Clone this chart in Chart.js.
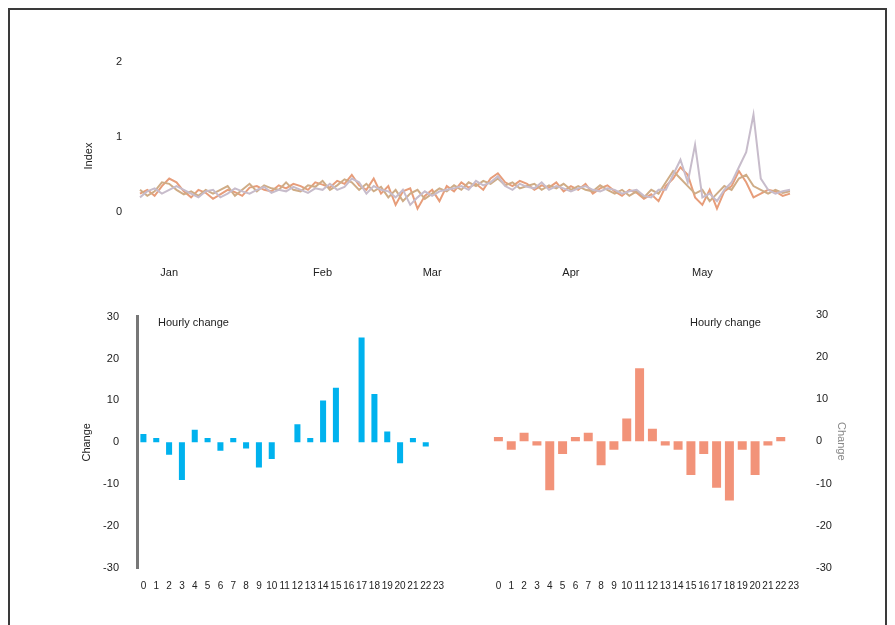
<!DOCTYPE html>
<html>
<head>
<meta charset="utf-8">
<script src="https://cdn.jsdelivr.net/npm/chart.js@4.4.1/dist/chart.umd.min.js"></script>
<style>
  html, body { margin: 0; padding: 0; background: #fff; width: 895px; height: 625px; overflow: hidden; }
  #frame { position: absolute; left: 8px; top: 8px; width: 879px; height: 640px; box-sizing: border-box; border: 2px solid #3a3a3a; }
  .cv { position: absolute; }
  .note { position: absolute; font: 11px "Liberation Sans", Arial, sans-serif; color: #222; white-space: nowrap; }
</style>
</head>
<body>
<div id="frame"></div>
<div class="cv" style="left:60px;top:30px;width:760px;height:260px;"><canvas id="top"></canvas></div>
<div class="cv" style="left:40px;top:300px;width:420px;height:295px;"><canvas id="bl"></canvas></div>
<div class="cv" style="left:470px;top:300px;width:390px;height:295px;"><canvas id="br"></canvas></div>
<div class="note" style="left:158px;top:316px;">Hourly change</div>
<div class="note" style="left:690px;top:316px;">Hourly change</div>
<script>
// ---------- DATA ----------
const topLabels = Array.from({length: 90}, (_, i) => 'Day ' + (i + 1));
const topTickIdx = [4, 25, 40, 59, 77];
const topTickText = ['Jan', 'Feb', 'Mar', 'Apr', 'May'];
const topYTicks = [0, 1, 2];
const seriesA = [0.25,0.30,0.22,0.35,0.45,0.40,0.28,0.20,0.30,0.26,
                 0.18,0.24,0.30,0.27,0.22,0.33,0.35,0.30,0.28,0.36,
                 0.32,0.38,0.35,0.30,0.40,0.37,0.33,0.42,0.38,0.50,
                 0.36,0.30,0.45,0.25,0.35,0.10,0.28,0.32,0.05,0.22,
                 0.30,0.15,0.35,0.28,0.40,0.33,0.38,0.30,0.45,0.52,
                 0.40,0.35,0.42,0.38,0.30,0.36,0.33,0.40,0.28,0.35,
                 0.30,0.38,0.25,0.32,0.36,0.28,0.22,0.30,0.26,0.18,
                 0.24,0.15,0.35,0.45,0.60,0.50,0.20,0.10,0.30,0.05,
                 0.28,0.35,0.55,0.40,0.20,0.25,0.30,0.28,0.22,0.25];
const seriesB = [0.30,0.22,0.28,0.40,0.38,0.30,0.24,0.28,0.22,0.30,
                 0.25,0.30,0.35,0.22,0.30,0.38,0.28,0.36,0.32,0.30,
                 0.40,0.30,0.28,0.36,0.34,0.42,0.30,0.36,0.44,0.40,
                 0.30,0.38,0.28,0.34,0.20,0.30,0.15,0.25,0.30,0.18,
                 0.25,0.32,0.28,0.36,0.30,0.40,0.35,0.42,0.38,0.45,
                 0.36,0.40,0.32,0.35,0.38,0.30,0.36,0.32,0.38,0.30,
                 0.35,0.30,0.28,0.36,0.30,0.25,0.30,0.22,0.28,0.20,
                 0.30,0.25,0.40,0.55,0.45,0.35,0.25,0.30,0.15,0.25,
                 0.35,0.30,0.45,0.50,0.35,0.30,0.25,0.30,0.26,0.28];
const seriesC = [0.20,0.28,0.32,0.25,0.30,0.35,0.30,0.25,0.20,0.28,
                 0.30,0.20,0.25,0.32,0.28,0.25,0.30,0.34,0.26,0.30,
                 0.28,0.34,0.30,0.26,0.32,0.30,0.38,0.30,0.34,0.45,
                 0.40,0.25,0.35,0.30,0.28,0.20,0.30,0.10,0.20,0.28,
                 0.22,0.28,0.30,0.32,0.35,0.30,0.42,0.36,0.40,0.48,
                 0.35,0.30,0.38,0.34,0.32,0.40,0.30,0.35,0.32,0.28,
                 0.32,0.35,0.30,0.28,0.32,0.30,0.25,0.28,0.30,0.22,
                 0.20,0.30,0.30,0.50,0.70,0.40,0.90,0.20,0.25,0.15,
                 0.30,0.40,0.60,0.80,1.30,0.45,0.30,0.25,0.28,0.30];

const hourLabels = Array.from({length: 24}, (_, i) => String(i));
const leftValues  = [2, 1, -3, -9, 3, 1, -2, 1, -1.5, -6, -4, 0, 4.3, 1, 10, 13, 0, 25, 11.5, 2.6, -5, 1, -1, 0];
const rightValues = [1, -2, 2, -1, -11.6, -3, 1, 2, -5.7, -2, 5.4, 17.3, 3, -1, -2, -8, -3, -11, -14, -2, -8, -1, 1, 0];

// ---------- COMMON ----------
const FONT = { family: '"Liberation Sans", Arial, sans-serif', size: 11 };
Chart.defaults.font = FONT;
Chart.defaults.color = '#222';
Chart.defaults.animation = false;
Chart.defaults.responsive = true;
Chart.defaults.maintainAspectRatio = false;

// ---------- TOP LINE CHART ----------
new Chart(document.getElementById('top'), {
  type: 'line',
  data: {
    labels: topLabels,
    datasets: [
      { data: seriesC, borderColor: '#c7bccb', borderWidth: 2, pointRadius: 0, tension: 0 },
      { data: seriesB, borderColor: '#cfac86', borderWidth: 2, pointRadius: 0, tension: 0 },
      { data: seriesA, borderColor: '#e79d7a', borderWidth: 2, pointRadius: 0, tension: 0 }
    ]
  },
  options: {
    layout: { padding: { left: 22, right: 30, top: 32, bottom: 5 } },
    plugins: { legend: { display: false }, tooltip: { enabled: false } },
    scales: {
      x: {
        grid: { display: false }, border: { display: false },
        afterFit: s => { s.height = 35; },
        ticks: {
          autoSkip: false, maxRotation: 0, padding: 8,
          callback: (v, i) => { const k = topTickIdx.indexOf(i); return k >= 0 ? topTickText[k] : null; }
        }
      },
      y: {
        min: -0.5, max: 2,
        grid: { display: false }, border: { display: false },
        afterFit: s => { s.width = 58; },
        afterBuildTicks: s => { s.ticks = topYTicks.map(v => ({ value: v })); },
        title: { display: true, text: 'Index', padding: 0 },
        ticks: { padding: 10 }
      }
    }
  }
});

// ---------- BOTTOM LEFT BAR CHART ----------
new Chart(document.getElementById('bl'), {
  type: 'bar',
  data: {
    labels: hourLabels,
    datasets: [{ data: leftValues, backgroundColor: '#00b2ee', barPercentage: 0.47, categoryPercentage: 1 }]
  },
  options: {
    layout: { padding: { left: 40, right: 15, top: 14, bottom: 0 } },
    plugins: { legend: { display: false }, tooltip: { enabled: false } },
    scales: {
      x: {
        grid: { display: false }, border: { display: false },
        afterFit: s => { s.height = 27; },
        ticks: { autoSkip: false, maxRotation: 0, padding: 4, font: { size: 10 } }
      },
      y: {
        min: -30, max: 30,
        grid: { display: false },
        border: { display: true, color: '#777', width: 3 },
        afterFit: s => { s.width = 57; },
        title: { display: true, text: 'Change', padding: 0 },
        ticks: { stepSize: 10, padding: 10 }
      }
    }
  }
});

// ---------- BOTTOM RIGHT BAR CHART ----------
new Chart(document.getElementById('br'), {
  type: 'bar',
  data: {
    labels: hourLabels,
    datasets: [{ data: rightValues, backgroundColor: 'rgba(240,128,98,0.85)', barPercentage: 0.7, categoryPercentage: 1 }]
  },
  options: {
    layout: { padding: { left: 22, right: 12, top: 14, bottom: 0 } },
    plugins: { legend: { display: false }, tooltip: { enabled: false } },
    scales: {
      x: {
        grid: { display: false }, border: { display: false },
        afterFit: s => { s.height = 27; },
        ticks: { autoSkip: false, maxRotation: 0, padding: 4, font: { size: 10 } }
      },
      y: {
        position: 'right',
        min: -30, max: 30,
        grid: { display: false }, border: { display: false },
        afterFit: s => { s.width = 48; },
        title: { display: true, text: 'Change', padding: 0, color: '#888' },
        ticks: { stepSize: 10, padding: 8 }
      }
    }
  }
});
</script>
</body>
</html>
